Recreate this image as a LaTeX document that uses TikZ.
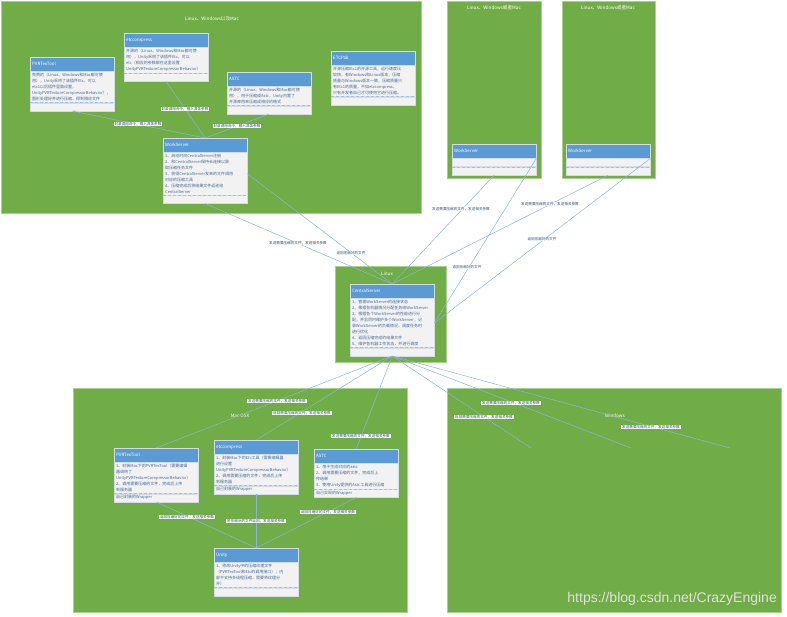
\documentclass[tikz,border=0pt]{standalone}
\usepackage{fontspec}
\setmainfont{Noto Sans CJK SC}
\newfontfamily\markfont{Liberation Sans}
\usetikzlibrary{arrows.meta}

\definecolor{panelgreen}{HTML}{70AD47}
\definecolor{paneledge}{HTML}{A9D18E}
\definecolor{headblue}{HTML}{5B9BD5}
\definecolor{bodygray}{HTML}{F2F2F2}
\definecolor{boxedge}{HTML}{D6DCE5}
\definecolor{linkblue}{HTML}{8FB3D6}
\definecolor{textblue}{HTML}{44689A}
\definecolor{tagtext}{HTML}{2E4A73}

\begin{document}
\begin{tikzpicture}[x=1pt, y=-1pt,
    panel/.style={fill=panelgreen, draw=paneledge, line width=0.6pt},
    title/.style={text=white, font=\fontsize{4.6}{5}\selectfont, inner sep=0pt},
    head/.style={rectangle, draw=boxedge, fill=headblue, line width=0.4pt, anchor=north west, text=white, font=\fontsize{4.4}{5}\selectfont, align=left, text width=80pt, inner xsep=2pt, inner ysep=0pt, minimum height=14pt},
    body/.style={rectangle, draw=boxedge, fill=bodygray, line width=0.4pt, anchor=north west, text=textblue, font=\fontsize{4}{6}\selectfont, align=left, text width=80pt, inner xsep=2pt, inner ysep=1.5pt, minimum height=8pt},
    sep/.style={draw=headblue!60, densely dashed, line width=0.3pt},
    link/.style={draw=linkblue, line width=0.5pt},
    arrow/.style={link, -{Stealth[length=3pt, width=2.4pt]}},
    tag/.style={fill=white, text=tagtext, font=\fontsize{3.6}{4}\selectfont, inner xsep=0.8pt, inner ysep=0.5pt}
]
\useasboundingbox (0,0) rectangle (787,617);

% Background panels
\draw[panel] (1,1) rectangle (421,213);
\draw[panel] (447,1) rectangle (541,178);
\draw[panel] (562,1) rectangle (655,178);
\draw[panel] (335,266) rectangle (446,362);
\draw[panel] (73,388) rectangle (407,612);
\draw[panel] (447,388) rectangle (781,612);

% Panel titles
\node[title] (allA) at (212,19) {Linux、Windows以及Mac};
\node[title] (allB) at (494,8) {Linux、Windows或者Mac};
\node[title] (allC) at (608,8) {Linux、Windows或者Mac};
\node[title] (linux) at (387,274) {Linux};
\node[title] (mac) at (240,416) {Mac OSX};
\node[title] (win) at (615,416) {Windows};

% Linux、Windows以及Mac: tools
\node[head] (pvr) at (30,57) {PVRTexTool};
\node[body] (pvrbody) at (pvr.south west) {免费的（Linux、Windows和Mac都可使\\用），Unity采用了该插件Etc，可以\\etc1以后插件里面设置，\\UnityPVRTextureCompressorBehavior），\\图形处理好并进行压缩，得到相应文件};
\node[body] (pvrops) at (pvrbody.south west) {};
\draw[sep] (pvrops.north west) -- (pvrops.north east);

\node[head] (etc) at (124,33) {etccompress};
\node[body] (etcbody) at (etc.south west) {开源的（Linux、Windows和Mac都可使\\用），Unity采用了该插件Etc，可以\\etc（相应的参数都在这里设置\\UnityPVRTextureCompressorBehavior）};
\node[body] (etcops) at (etcbody.south west) {};
\draw[sep] (etcops.north west) -- (etcops.north east);

\node[head] (astc) at (227,72) {ASTC};
\node[body] (astcbody) at (astc.south west) {开源的（Linux、Windows和Mac都可使\\用），用于压缩成Astc，Unity内置了\\开源库用来压缩成相应的格式};
\node[body] (astcops) at (astcbody.south west) {};
\draw[sep] (astcops.north west) -- (astcops.north east);

\node[head] (pak) at (331,51) {ETCPak};
\node[body] (pakbody) at (pak.south west) {开源压缩Etc1的开源工具，运行速度比\\较快，有Windows和Linux版本，压缩\\质量与Windows版本一致，压缩质量只\\有Etc1的质量，不如etccompress，\\只有开发者自己才可使用它进行压缩。};
\node[body] (pakops) at (pakbody.south west) {};
\draw[sep] (pakops.north west) -- (pakops.north east);

\node[head] (ws) at (163,138) {WorkServer};
\node[body] (wsbody) at (ws.south west) {1、启动时向CentralServer注册\\2、和CentralServer保持长连接以获\\取压缩任务文件\\3、获得CentralServer发来的文件调用\\对应的压缩工具\\4、压缩完成后将结果文件返还给\\CentralServer};
\node[body] (wsops) at (wsbody.south west) {};
\draw[sep] (wsops.north west) -- (wsops.north east);

% Linux、Windows或者Mac: WorkServer
\node[head] (ws2) at (452,144) {WorkServer};
\node[body] (ws2body) at (ws2.south west) {};
\node[body] (ws2ops) at (ws2body.south west) {};
\draw[sep] (ws2ops.north west) -- (ws2ops.north east);

\node[head] (ws3) at (566,144) {WorkServer};
\node[body] (ws3body) at (ws3.south west) {};
\node[body] (ws3ops) at (ws3body.south west) {};
\draw[sep] (ws3ops.north west) -- (ws3ops.north east);

% Linux: CentralServer
\node[head] (cs) at (350,284) {CentralServer};
\node[body] (csbody) at (cs.south west) {1、管理WorkServer的连接状态\\2、根据各机器情况分配任务给WorkServer\\3、根据各个WorkServer的性能进行分\\配，并且同时维护多个WorkServer，记\\录WorkServer的负载情况，调度任务时\\进行优化\\4、返回压缩完成的结果文件\\5、维护各机器工作状态，并进行调度};
\node[body] (csops) at (csbody.south west) {};
\draw[sep] (csops.north west) -- (csops.north east);

% Mac OSX: wrappers and Unity
\node[head] (macpvr) at (114,448) {PVRTexTool};
\node[body] (macpvrbody) at (macpvr.south west) {1、封装Mac下的PVRTexTool（需要编辑\\器调用了\\UnityPVRTextureCompressorBehavior）\\2、调用需要压缩的文件，完成后上传\\到服务器};
\node[body] (macpvrops) at (macpvrbody.south west) {自己封装的Wrapper};
\draw[sep] (macpvrops.north west) -- (macpvrops.north east);

\node[head] (macetc) at (214,440) {etccompress};
\node[body] (macetcbody) at (macetc.south west) {1、封装Mac下的Etc工具（需要编辑器\\进行设置\\UnityPVRTextureCompressorBehavior）\\2、调用需要压缩的文件，完成后上传\\到服务器};
\node[body] (macetcops) at (macetcbody.south west) {自己封装的Wrapper};
\draw[sep] (macetcops.north west) -- (macetcops.north east);

\node[head] (macastc) at (314,449) {ASTC};
\node[body] (macastcbody) at (macastc.south west) {1、用于生成对应的astc\\2、调用需要压缩的文件，完成后上\\传结果\\3、使用Unity提供的Astc工具进行压缩};
\node[body] (macastcops) at (macastcbody.south west) {自己实现的Wrapper};
\draw[sep] (macastcops.north west) -- (macastcops.north east);

\node[head] (unity) at (214,548) {Unity};
\node[body] (unitybody) at (unity.south west) {1、修改Unity中的压缩纹理文件\\（PVRTexTool和Etc的调用接口），内\\部不支持多线程压缩，需要将纹理分\\开）};
\node[body] (unityops) at (unitybody.south west) {};
\draw[sep] (unityops.north west) -- (unityops.north east);

% Windows: free ends
\coordinate (w1) at (531,448);
\coordinate (w2) at (631,448);
\coordinate (w3) at (730,448);

% Connectors
\draw[arrow] (ws.north) -- (pvrops.south);
\draw[link] (ws.north) -- (etcops.south);
\draw[link] (ws.north) -- (astcops.south);
\draw[link] (wsops.south) -- (cs.north);
\draw[link] (wsbody.east) -- (cs.north);
\draw[link] (ws2ops.south) -- (cs.north);
\draw[link] (ws2.south east) -- (csbody.east);
\draw[link] (ws3ops.south) -- (cs.north);
\draw[link] (ws3.south east) -- (csbody.east);
\draw[link] (csops.south) -- (macpvr.north);
\draw[link] (csops.south) -- (macetc.north);
\draw[link] (csops.south) -- (macastc.north);
\draw[link] (csops.south) -- (w1);
\draw[link] (csops.south) -- (w2);
\draw[link] (csops.south) -- (w3);
\draw[link] (macpvrops.south) -- (unity.north);
\draw[link] (macetcops.south) -- (unity.north);
\draw[link] (macastcops.south) -- (unity.north);

% Connector labels
\node[tag] (t1) at (138,124) {封装调用命令，输入具体参数};
\node[tag] (t2) at (185,109) {封装调用命令，输入具体参数};
\node[tag] (t3) at (237,126) {封装调用命令，输入具体参数};
\node[tag] (t4) at (298,243) {发送需要压缩的文件，发送相关参数};
\node[tag] (t5) at (351,253) {返回压缩好的文件};
\node[tag] (t6) at (461,209) {发送需要压缩的文件，发送相关参数};
\node[tag] (t7) at (550,204) {发送需要压缩的文件，发送相关参数};
\node[tag] (t8) at (542,239) {返回压缩好的文件};
\node[tag] (t9) at (467,267) {返回压缩好的文件};
\node[tag] (t10) at (277,401) {发送需要压缩的文件，发送相关参数};
\node[tag] (t11) at (302,413) {返回需要压缩的文件，发送相关参数};
\node[tag] (t12) at (361,436) {发送需要压缩的文件，发送相关参数};
\node[tag] (t13) at (187,517) {返回压缩好的文件，发送相关参数};
\node[tag] (t14) at (256,521) {将压缩后的文件返回，发送相关参数};
\node[tag] (t15) at (328,512) {返回压缩好的文件，发送相关参数};
\node[tag] (t16) at (511,403) {发送需要压缩的文件，发送相关参数};
\node[tag] (t17) at (484,417) {返回需要压缩的文件，发送相关参数};
\node[tag] (t18) at (651,427) {发送需要压缩的文件，发送相关参数};

% Watermark
\node[anchor=south east, inner sep=0pt, text=white!88!black, font=\markfont\fontsize{14}{14}\selectfont] (mark) at (777,606) {https://blog.csdn.net/CrazyEngine};

\end{tikzpicture}
\end{document}
